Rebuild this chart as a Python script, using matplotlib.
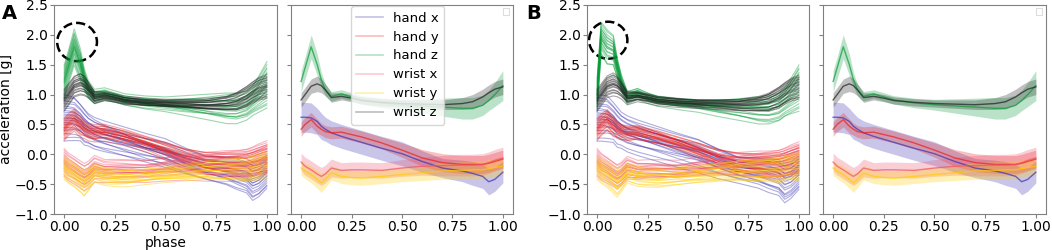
import matplotlib
matplotlib.use("Agg")
import matplotlib.pyplot as plt
from matplotlib.patches import Ellipse, Rectangle
import numpy as np

phase = [0.0, 0.02, 0.05, 0.08, 0.10, 0.12, 0.15, 0.20, 0.25, 0.30,
         0.40, 0.50, 0.60, 0.70, 0.80, 0.85, 0.90, 0.93, 0.96, 1.00]

# mean curves [g]
hand_x = [0.62, 0.62, 0.61, 0.55, 0.47, 0.42, 0.36, 0.30, 0.25, 0.20,
          0.10, 0.01, -0.12, -0.23, -0.28, -0.32, -0.37, -0.46, -0.42, -0.30]
hand_y = [0.42, 0.50, 0.58, 0.47, 0.42, 0.38, 0.36, 0.37, 0.33, 0.29,
          0.19, 0.07, -0.06, -0.14, -0.17, -0.17, -0.17, -0.15, -0.12, -0.08]
hand_z = [1.22, 1.45, 1.80, 1.50, 1.25, 1.08, 0.97, 1.01, 0.96, 0.91,
          0.86, 0.83, 0.81, 0.79, 0.77, 0.77, 0.82, 0.90, 1.00, 1.15]
wrist_x = [-0.13, -0.20, -0.26, -0.33, -0.37, -0.33, -0.23, -0.27, -0.26, -0.26,
           -0.27, -0.23, -0.20, -0.19, -0.18, -0.18, -0.17, -0.14, -0.10, -0.06]
wrist_y = [-0.23, -0.28, -0.34, -0.42, -0.48, -0.42, -0.31, -0.37, -0.39, -0.40,
           -0.37, -0.34, -0.31, -0.28, -0.27, -0.26, -0.26, -0.24, -0.22, -0.20]
wrist_z = [0.91, 1.00, 1.14, 1.18, 1.15, 1.08, 0.95, 0.97, 0.94, 0.90,
           0.87, 0.85, 0.84, 0.83, 0.85, 0.88, 0.96, 1.03, 1.09, 1.13]
# panel B trials have a sharper hand z peak
hand_z_b = [1.00, 1.95, 1.80, 1.75, 1.45, 1.20, 0.95, 1.02, 0.95, 0.90,
            0.86, 0.83, 0.80, 0.78, 0.76, 0.76, 0.80, 0.88, 0.98, 1.12]

# spread (sd) [g]
hand_x_sd = [0.25, 0.25, 0.25, 0.22, 0.22, 0.20, 0.20, 0.20, 0.20, 0.20,
             0.20, 0.20, 0.18, 0.16, 0.18, 0.20, 0.20, 0.22, 0.20, 0.18]
hand_y_sd = [0.12, 0.12, 0.12, 0.12, 0.10, 0.10, 0.10, 0.10, 0.10, 0.10,
             0.10, 0.12, 0.14, 0.15, 0.15, 0.15, 0.15, 0.15, 0.15, 0.15]
hand_z_sd = [0.18, 0.18, 0.20, 0.18, 0.12, 0.10, 0.08, 0.07, 0.07, 0.07,
             0.08, 0.09, 0.12, 0.15, 0.18, 0.18, 0.17, 0.17, 0.20, 0.25]
wrist_x_sd = [0.15, 0.15, 0.15, 0.15, 0.15, 0.15, 0.15, 0.13, 0.13, 0.13,
              0.13, 0.14, 0.15, 0.17, 0.18, 0.18, 0.18, 0.18, 0.18, 0.18]
wrist_y_sd = [0.12, 0.13, 0.14, 0.15, 0.16, 0.14, 0.12, 0.12, 0.12, 0.12,
              0.12, 0.12, 0.13, 0.14, 0.15, 0.15, 0.15, 0.15, 0.15, 0.15]
wrist_z_sd = [0.12, 0.12, 0.12, 0.13, 0.12, 0.10, 0.08, 0.06, 0.06, 0.06,
              0.06, 0.06, 0.07, 0.08, 0.10, 0.12, 0.13, 0.13, 0.13, 0.13]

# per-trial deviation (in sd units) at start / end of the movement
trial_start = [-1.4, -1.1, -0.9, -0.7, -0.5, -0.35, -0.2, -0.1, 0.0, 0.1,
               0.2, 0.3, 0.45, 0.6, 0.75, 0.9, 1.1, 1.3, 1.5, -1.6]
trial_end_a = [0.6, -1.2, 1.4, -0.3, 0.9, -1.5, 0.1, 1.1, -0.8, 0.4,
               -0.1, 1.6, -0.6, 0.2, -1.0, 0.8, -0.4, 1.2, -1.3, 0.0]
trial_end_b = [-0.9, 0.5, -0.2, 1.3, -1.4, 0.7, 1.0, -0.5, 0.3, -1.1,
               1.5, -0.7, 0.0, -1.3, 0.6, 0.2, 1.2, -0.3, 0.9, -1.6]

labels = ["hand x", "hand y", "hand z", "wrist x", "wrist y", "wrist z"]
colors = ["#3a32b0", "#e8201e", "#0a9a3a", "#f0506a", "#ffcc00", "#202020"]
means = [hand_x, hand_y, hand_z, wrist_x, wrist_y, wrist_z]
sds = [hand_x_sd, hand_y_sd, hand_z_sd, wrist_x_sd, wrist_y_sd, wrist_z_sd]

spine_col = "#808080"

fig = plt.figure(figsize=(10.52, 2.5), dpi=100)
ax1 = fig.add_axes([0.0513, 0.144, 0.2120, 0.836])
ax2 = fig.add_axes([0.2766, 0.144, 0.2110, 0.836])
ax3 = fig.add_axes([0.5580, 0.144, 0.2110, 0.836])
ax4 = fig.add_axes([0.7823, 0.144, 0.2120, 0.836])

p = np.array(phase)


def draw_trials(ax, series_means, end_factors):
    for i, (m, s, c) in enumerate(zip(series_means, sds, colors)):
        m = np.array(m)
        s = np.array(s)
        n = len(trial_start)
        for k in range(n):
            a = trial_start[(k + 3 * i) % n]
            b = end_factors[(k + 5 * i) % n]
            ax.plot(p, m + s * (a * (1 - p) + b * p), color=c, lw=0.8, alpha=0.4)


def draw_means(ax):
    for m, s, c in zip(means, sds, colors):
        m = np.array(m)
        s = np.array(s)
        ax.fill_between(p, m - s, m + s, color=c, alpha=0.28, lw=0)
        ax.plot(p, m, color=c, lw=1.0, alpha=0.7)


draw_trials(ax1, means, trial_end_a)
draw_trials(ax3, [hand_x, hand_y, hand_z_b, wrist_x, wrist_y, wrist_z], trial_end_b)
draw_means(ax2)
draw_means(ax4)

for ax in (ax1, ax2, ax3, ax4):
    ax.set_xlim(-0.05, 1.05)
    ax.set_ylim(-1.0, 2.5)
    ax.set_xticks([0.0, 0.25, 0.5, 0.75, 1.0])
    ax.set_yticks([-1.0, -0.5, 0.0, 0.5, 1.0, 1.5, 2.0, 2.5])
    ax.tick_params(labelsize=10, color=spine_col, length=3, pad=1.5)
    for sp in ax.spines.values():
        sp.set_color(spine_col)

for ax in (ax2, ax4):
    ax.set_yticklabels([])
    # empty legend box in the corner
    ax.add_patch(Rectangle((0.955, 0.952), 0.027, 0.034, transform=ax.transAxes,
                           fill=False, edgecolor="#dddddd", lw=0.8))

ax1.set_ylabel("acceleration [g]", fontsize=10, labelpad=1)
ax1.set_xlabel("phase", fontsize=10, labelpad=1)

# dashed circles around the hand z peak
ax1.add_patch(Ellipse((0.064, 1.88), 0.196, 0.64, fill=False, ls="--",
                      lw=1.8, edgecolor="black"))
ax3.add_patch(Ellipse((0.055, 1.91), 0.19, 0.62, fill=False, ls="--",
                      lw=1.8, edgecolor="black"))

handles = [plt.Line2D([], [], color=c, lw=1.2, alpha=0.3) for c in colors]
ax2.legend(handles, labels, loc="upper center", bbox_to_anchor=(0.48, 1.0),
           fontsize=9.5, borderaxespad=0.1, handlelength=2.0,
           labelspacing=0.45, framealpha=0.8)

fig.text(0.002, 0.985, "A", fontsize=14, fontweight="bold", va="top")
fig.text(0.500, 0.985, "B", fontsize=14, fontweight="bold", va="top")

fig.savefig("out.png", dpi=100)
